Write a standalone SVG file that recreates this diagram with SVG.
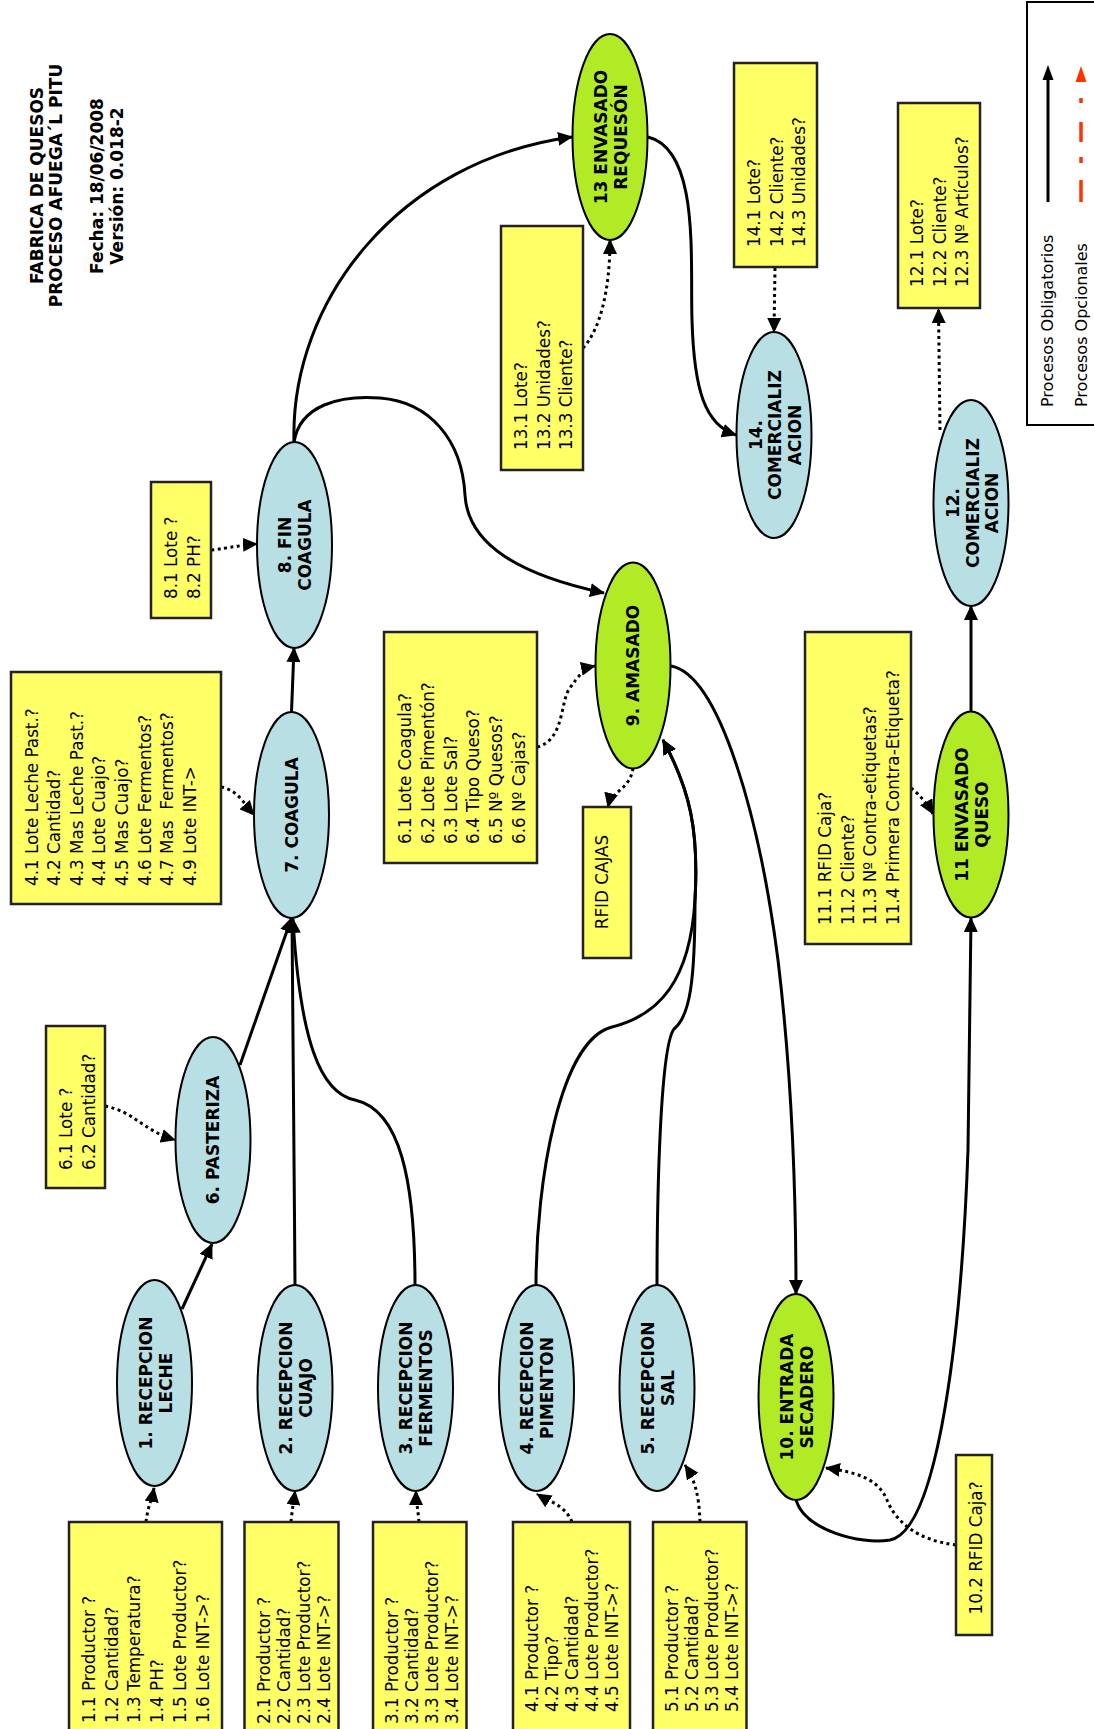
<svg xmlns="http://www.w3.org/2000/svg" width="1094" height="1729" viewBox="0 0 1094 1729">
<style>
.bx{fill:#FFFF66;stroke:#222;stroke-width:2.5}
.eb{fill:#B8DFE3;stroke:#000;stroke-width:2}
.eg{fill:#B0EB26;stroke:#000;stroke-width:2}
.t{font-family:"DejaVu Sans",Verdana,sans-serif;font-size:16.8px;fill:#000;white-space:pre}
.l{font-family:"DejaVu Sans",Verdana,sans-serif;font-size:17px;font-weight:bold;fill:#000;text-anchor:middle}
.ti{font-family:"DejaVu Sans",Verdana,sans-serif;font-size:17px;font-weight:bold;fill:#000;text-anchor:middle}
.lg{font-family:"DejaVu Sans",Verdana,sans-serif;font-size:16px;fill:#000}
.c{fill:none;stroke:#000;stroke-width:3;marker-end:url(#ah)}
.d{fill:none;stroke:#000;stroke-width:3;stroke-dasharray:3,3.5;marker-end:url(#ah)}
</style>
<defs>
<marker id="ah" markerUnits="userSpaceOnUse" markerWidth="16" markerHeight="14" refX="14" refY="7" orient="auto">
<path d="M0,0 L15,7 L0,14 z" fill="#000"/>
</marker>
</defs>
<rect width="1094" height="1729" fill="#fff"/>

<g id="title" transform="rotate(-90)">
<text class="ti" x="-185.5" y="43">FABRICA DE QUESOS</text>
<text class="ti" x="-185.5" y="62">PROCESO AFUEGA´L PITU</text>
<text class="ti" x="-186" y="103">Fecha: 18/06/2008</text>
<text class="ti" x="-186" y="123">Versión: 0.018-2</text>
</g>

<g id="legend">
<rect x="1027" y="2" width="80" height="423" fill="none" stroke="#000" stroke-width="2"/>
<line x1="1048" y1="202" x2="1048" y2="78" stroke="#000" stroke-width="3"/>
<polygon points="1048,65 1042.5,80 1053.5,80" fill="#000"/>
<line x1="1081" y1="202" x2="1081" y2="82" stroke="#FF3300" stroke-width="3.5" stroke-dasharray="22,17,6,15,20,19,5,100"/>
<polygon points="1081,66 1075.5,82 1086.5,82" fill="#FF3300"/>
<text class="lg" transform="rotate(-90)" x="-407" y="1053">Procesos Obligatorios</text>
<text class="lg" transform="rotate(-90)" x="-407" y="1087">Procesos Opcionales</text>
</g>

<g id="connectors">
<path class="c" d="M182,1309 L212,1244"/>
<path class="c" d="M240,1065 L291.5,918"/>
<path class="c" d="M295,1286 C294,1150 293,1000 292,918"/>
<path class="c" d="M415,1286 C415,1180 400,1110 355,1100 C320,1093 300,1040 293,919"/>
<path class="c" d="M291.5,712 L294,648"/>
<path class="c" d="M294,442 C290,300 400,160 572,137"/>
<path class="c" d="M294,442 C300,405 340,395 380,398 C430,402 462,440 465,495 C468,545 520,575 604,593"/>
<path class="c" d="M648,137 C700,150 690,260 692,320 C694,390 705,425 736,435"/>
<path class="c" d="M536,1286 C536,1180 560,1040 612,1027 C660,1015 690,980 695,900 C699,830 690,790 663,740"/>
<path class="c" d="M657,1286 C657,1200 660,1040 675,1028 C690,1015 695,980 695,900 C699,830 690,790 663,740"/>
<path class="c" d="M671,666 C720,675 760,820 778,960 C790,1060 796,1180 796,1294"/>
<path class="c" d="M796,1500 C805,1530 860,1545 890,1540 C940,1530 962,1320 968,1150 L971,918"/>
<path class="c" d="M971,712 L971,606"/>
<path class="d" d="M146,1522 C148,1505 152,1500 154,1488"/>
<path class="d" d="M291,1522 C292,1510 294,1500 295,1491"/>
<path class="d" d="M419,1522 C418,1510 416,1500 416,1491"/>
<path class="d" d="M572,1522 C565,1505 550,1502 537,1494"/>
<path class="d" d="M700,1522 C699,1495 695,1480 685,1465"/>
<path class="d" d="M105,1106 C135,1112 142,1130 175,1140"/>
<path class="d" d="M221,787 C238,790 245,805 254,815"/>
<path class="d" d="M211,550 C230,548 240,545 257,544"/>
<path class="d" d="M537,747 C565,740 560,700 570,688 C578,676 585,668 595,666"/>
<path class="d" d="M633,768 C630,790 612,790 608,807"/>
<path class="d" d="M911,788 C920,795 928,805 933,814"/>
<path class="d" d="M940,430 L938.5,309"/>
<path class="d" d="M583,348 C600,330 610,290 610,240"/>
<path class="d" d="M775,268 L774,332"/>
<path class="d" d="M956,1545 C915,1540 895,1520 887,1500 C878,1478 855,1472 826,1468"/>
</g>

<g id="n1"><ellipse class="eb" cx="154.5" cy="1383" rx="37.5" ry="103"/>
<text class="l" transform="rotate(-90)"><tspan x="-1383" y="151.5">1. RECEPCION</tspan><tspan x="-1383" y="171.5">LECHE</tspan></text></g>
<g id="n2"><ellipse class="eb" cx="295" cy="1388" rx="37.5" ry="103"/>
<text class="l" transform="rotate(-90)"><tspan x="-1388" y="291.5">2. RECEPCION</tspan><tspan x="-1388" y="311.5">CUAJO</tspan></text></g>
<g id="n3"><ellipse class="eb" cx="415.5" cy="1388" rx="37.5" ry="103"/>
<text class="l" transform="rotate(-90)"><tspan x="-1388" y="412">3. RECEPCION</tspan><tspan x="-1388" y="432">FERMENTOS</tspan></text></g>
<g id="n4"><ellipse class="eb" cx="536.5" cy="1388" rx="37.5" ry="103"/>
<text class="l" transform="rotate(-90)"><tspan x="-1388" y="533">4. RECEPCION</tspan><tspan x="-1388" y="553">PIMENTON</tspan></text></g>
<g id="n5"><ellipse class="eb" cx="657" cy="1388" rx="37.5" ry="103"/>
<text class="l" transform="rotate(-90)"><tspan x="-1388" y="653.5">5. RECEPCION</tspan><tspan x="-1388" y="673.5">SAL</tspan></text></g>
<g id="n6"><ellipse class="eb" cx="213" cy="1140" rx="37.5" ry="103"/>
<text class="l" transform="rotate(-90)" x="-1140" y="219">6. PASTERIZA</text></g>
<g id="n7"><ellipse class="eb" cx="291.5" cy="815" rx="37.5" ry="103"/>
<text class="l" transform="rotate(-90)" x="-815" y="297.5">7. COAGULA</text></g>
<g id="n8"><ellipse class="eb" cx="294.5" cy="545" rx="37.5" ry="103"/>
<text class="l" transform="rotate(-90)"><tspan x="-545" y="291">8. FIN</tspan><tspan x="-545" y="311">COAGULA</tspan></text></g>
<g id="n9"><ellipse class="eg" cx="633" cy="665.5" rx="37.5" ry="103"/>
<text class="l" transform="rotate(-90)" x="-665.5" y="639">9. AMASADO</text></g>
<g id="n10"><ellipse class="eg" cx="796" cy="1397" rx="37.5" ry="103"/>
<text class="l" transform="rotate(-90)"><tspan x="-1397" y="792.5">10. ENTRADA</tspan><tspan x="-1397" y="812.5">SECADERO</tspan></text></g>
<g id="n11"><ellipse class="eg" cx="971" cy="814.5" rx="37.5" ry="103"/>
<text class="l" transform="rotate(-90)"><tspan x="-814.5" y="967.5">11 ENVASADO</tspan><tspan x="-814.5" y="987.5">QUESO</tspan></text></g>
<g id="n12"><ellipse class="eb" cx="971" cy="503" rx="37.5" ry="103"/>
<text class="l" transform="rotate(-90)"><tspan x="-503" y="959">12.</tspan><tspan x="-503" y="978.5">COMERCIALIZ</tspan><tspan x="-503" y="998">ACION</tspan></text></g>
<g id="n13"><ellipse class="eg" cx="610" cy="137" rx="37.5" ry="103"/>
<text class="l" transform="rotate(-90)"><tspan x="-137" y="606.5">13 ENVASADO</tspan><tspan x="-137" y="626.5">REQUESÓN</tspan></text></g>
<g id="n14"><ellipse class="eb" cx="774" cy="435" rx="37.5" ry="103"/>
<text class="l" transform="rotate(-90)"><tspan x="-435" y="761.5">14.</tspan><tspan x="-435" y="781">COMERCIALIZ</tspan><tspan x="-435" y="800.5">ACION</tspan></text></g>

<g id="b1"><rect class="bx" x="69" y="1522" width="153" height="212"/>
<text class="t" transform="rotate(-90)"><tspan x="-1723" y="94.7">1.1 Productor ?</tspan><tspan x="-1723" y="117.5">1.2 Cantidad?</tspan><tspan x="-1723" y="140.3">1.3 Temperatura?</tspan><tspan x="-1723" y="163.1">1.4 PH?</tspan><tspan x="-1723" y="185.9">1.5 Lote Productor?</tspan><tspan x="-1723" y="208.7">1.6 Lote INT-&gt;?</tspan></text></g>
<g id="b2"><rect class="bx" x="244.5" y="1522" width="94" height="212"/>
<text class="t" transform="rotate(-90)"><tspan x="-1724" y="270">2.1 Productor ?</tspan><tspan x="-1724" y="290">2.2 Cantidad?</tspan><tspan x="-1724" y="310">2.3 Lote Productor?</tspan><tspan x="-1724" y="330">2.4 Lote INT-&gt;?</tspan></text></g>
<g id="b3"><rect class="bx" x="373" y="1522" width="93.5" height="212"/>
<text class="t" transform="rotate(-90)"><tspan x="-1724" y="398">3.1 Productor ?</tspan><tspan x="-1724" y="418">3.2 Cantidad?</tspan><tspan x="-1724" y="438">3.3 Lote Productor?</tspan><tspan x="-1724" y="458">3.4 Lote INT-&gt;?</tspan></text></g>
<g id="b4"><rect class="bx" x="513" y="1522" width="117" height="212"/>
<text class="t" transform="rotate(-90)"><tspan x="-1712" y="538">4.1 Productor ?</tspan><tspan x="-1712" y="558">4.2 Tipo?</tspan><tspan x="-1712" y="578">4.3 Cantidad?</tspan><tspan x="-1712" y="598">4.4 Lote Productor?</tspan><tspan x="-1712" y="618">4.5 Lote INT-&gt;?</tspan></text></g>
<g id="b5"><rect class="bx" x="653" y="1522" width="93.5" height="212"/>
<text class="t" transform="rotate(-90)"><tspan x="-1712" y="678">5.1 Productor ?</tspan><tspan x="-1712" y="698">5.2 Cantidad?</tspan><tspan x="-1712" y="718">5.3 Lote Productor?</tspan><tspan x="-1712" y="738">5.4 Lote INT-&gt;?</tspan></text></g>
<g id="b6"><rect class="bx" x="46" y="1026" width="59" height="162"/>
<text class="t" transform="rotate(-90)"><tspan x="-1170" y="72">6.1 Lote ?</tspan><tspan x="-1170" y="94.7">6.2 Cantidad?</tspan></text></g>
<g id="b7"><rect class="bx" x="11" y="672" width="210" height="232"/>
<text class="t" transform="rotate(-90)"><tspan x="-886" y="37.5">4.1 Lote Leche Past.?</tspan><tspan x="-886" y="60.1">4.2 Cantidad?</tspan><tspan x="-886" y="82.7">4.3 Mas Leche Past.?</tspan><tspan x="-886" y="105.3">4.4 Lote Cuajo?</tspan><tspan x="-886" y="127.9">4.5 Mas Cuajo?</tspan><tspan x="-886" y="150.5">4.6 Lote Fermentos?</tspan><tspan x="-886" y="173.1">4.7 Mas  Fermentos?</tspan><tspan x="-886" y="195.7">4.9 Lote INT-&gt;</tspan></text></g>
<g id="b8"><rect class="bx" x="151" y="482" width="60" height="136"/>
<text class="t" transform="rotate(-90)"><tspan x="-599" y="177">8.1 Lote ?</tspan><tspan x="-599" y="200">8.2 PH?</tspan></text></g>
<g id="b9"><rect class="bx" x="384" y="632" width="153" height="231"/>
<text class="t" transform="rotate(-90)"><tspan x="-844" y="410.7">6.1 Lote Coagula?</tspan><tspan x="-844" y="433.6">6.2 Lote Pimentón?</tspan><tspan x="-844" y="456.5">6.3 Lote Sal?</tspan><tspan x="-844" y="479.4">6.4 Tipo Queso?</tspan><tspan x="-844" y="502.3">6.5 Nº Quesos?</tspan><tspan x="-844" y="525.2">6.6 Nº Cajas?</tspan></text></g>
<g id="b9r"><rect class="bx" x="583" y="807" width="48" height="151"/>
<text class="t" transform="rotate(-90)" x="-882" y="608" text-anchor="middle">RFID CAJAS</text></g>
<g id="b10"><rect class="bx" x="956" y="1455" width="36" height="180"/>
<text class="t" transform="rotate(-90)" x="-1548" y="981.5" text-anchor="middle">10.2 RFID Caja?</text></g>
<g id="b11"><rect class="bx" x="805" y="632" width="106" height="312"/>
<text class="t" transform="rotate(-90)"><tspan x="-925" y="830.8">11.1 RFID Caja?</tspan><tspan x="-925" y="853.5">11.2 Cliente?</tspan><tspan x="-925" y="876.2">11.3 Nº Contra-etiquetas?</tspan><tspan x="-925" y="898.9">11.4 Primera Contra-Etiqueta?</tspan></text></g>
<g id="b12"><rect class="bx" x="898" y="103" width="82" height="205"/>
<text class="t" transform="rotate(-90)"><tspan x="-287" y="923">12.1 Lote?</tspan><tspan x="-287" y="945.6">12.2 Cliente?</tspan><tspan x="-287" y="968.3">12.3 Nº Artículos?</tspan></text></g>
<g id="b13"><rect class="bx" x="501" y="226" width="82" height="244"/>
<text class="t" transform="rotate(-90)"><tspan x="-450" y="527">13.1 Lote?</tspan><tspan x="-450" y="549.7">13.2 Unidades?</tspan><tspan x="-450" y="572.4">13.3 Cliente?</tspan></text></g>
<g id="b14"><rect class="bx" x="734" y="63" width="83" height="204"/>
<text class="t" transform="rotate(-90)"><tspan x="-247" y="760">14.1 Lote?</tspan><tspan x="-247" y="782.5">14.2 Cliente?</tspan><tspan x="-247" y="805">14.3 Unidades?</tspan></text></g>
</svg>
